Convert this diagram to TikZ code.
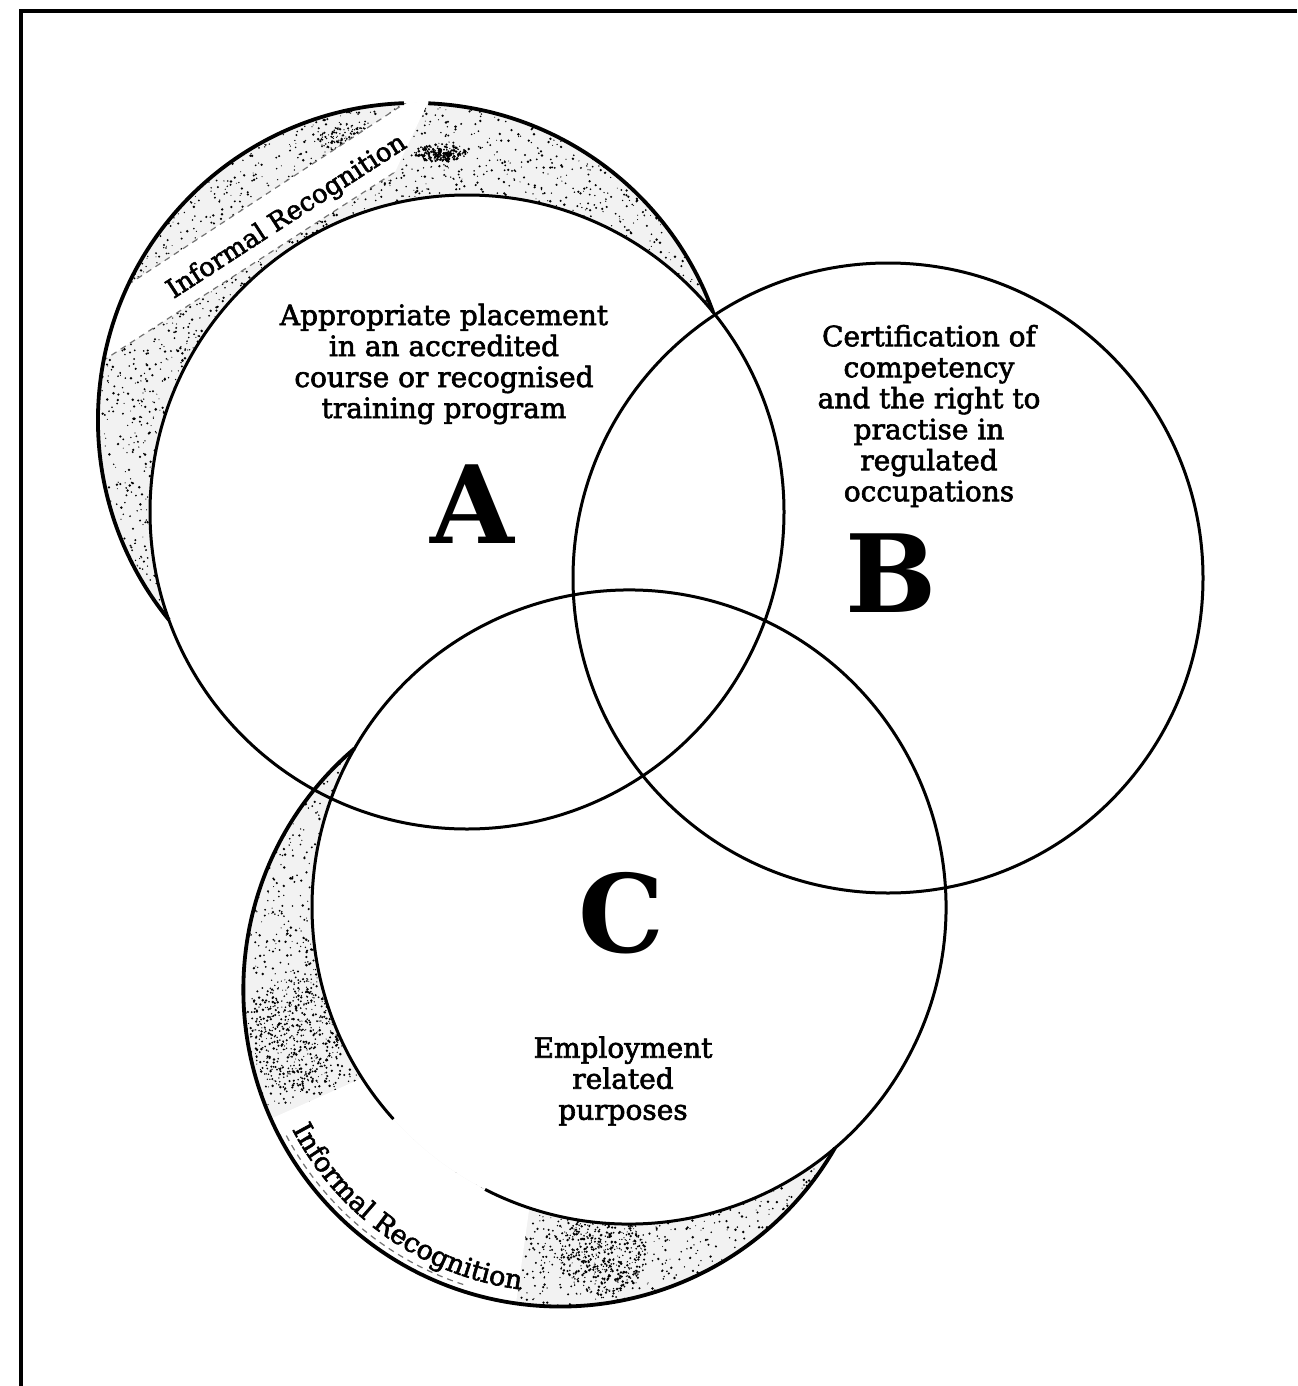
\documentclass[tikz,border=0pt]{standalone}
\usepackage{fontspec}
\setmainfont{DejaVu Serif}
\newfontfamily\medfont[FakeBold=2.2]{DejaVu Serif}
\usetikzlibrary{calc,decorations.text}
\begin{document}
\begin{tikzpicture}[x=0.5pt,y=0.5pt,
  ring/.style={line width=1.5pt},
  rim/.style={line width=1.9pt},
  lbl/.style={align=center, inner sep=0pt, font=\medfont\fontsize{14pt}{15.5pt}\selectfont},
  big/.style={inner sep=0pt, font=\fontsize{54pt}{60pt}\selectfont\bfseries},
  irec/.style={inner sep=0pt, font=\medfont\fontsize{13pt}{15pt}\selectfont},
  bandedge/.style={black!55, line width=0.6pt, dash pattern=on 3pt off 2.5pt},
  speck/.style={black}]
\useasboundingbox (0,0) rectangle (1297,-1386);
\fill[white] (0,0) rectangle (1297,-1386);

% centres (all circles have radius 317)
\coordinate (Acen) at (467,-512);
\coordinate (Bcen) at (888,-578);
\coordinate (Ccen) at (629,-907);
\coordinate (Ot) at (415,-420);   % upper "informal" circle
\coordinate (Ob) at (560,-990);   % lower "informal" circle
% crescent end points
\coordinate (TA1) at ($(Acen)+(199.9:317)$);
\coordinate (TA2) at ($(Acen)+(39.1:317)$);
\coordinate (BC1) at ($(Ccen)+(150:317)$);
\coordinate (BC2) at ($(Ccen)+(310.5:317)$);

\tikzset{
  toppath/.style={insert path={(TA1) arc[start angle=219.1, end angle=19.9, radius=317] -- (TA2) arc[start angle=39.1, end angle=199.9, radius=317] -- cycle}},
  botpath/.style={insert path={(BC1) arc[start angle=130.5, end angle=330, radius=317] -- (BC2) arc[start angle=310.5, end angle=150, radius=317] -- cycle}}
}

\pgfmathsetseed{4242}
% ---------- upper crescent ----------
\begin{scope}
  \clip[toppath];
  \fill[black!5] (0,0) rectangle (800,-700);
  \foreach \i in {1,...,2300}{
    \pgfmathsetmacro\ang{15+210*rnd}
    \pgfmathsetmacro\rr{205+115*rnd}
    \pgfmathsetmacro\sz{0.5+0.9*rnd}
    \fill[speck] (Ot) ++(\ang:\rr) circle[radius=\sz];
  }
  \foreach \i in {1,...,160}{
    \pgfmathsetmacro\ang{360*rnd}
    \pgfmathsetmacro\rr{sqrt(rnd)}
    \pgfmathsetmacro\sz{0.5+0.9*rnd}
    \fill[speck] (350,-140) ++({32*\rr*cos(\ang)},{16*\rr*sin(\ang)}) circle[radius=\sz];
  }
  \foreach \i in {1,...,180}{
    \pgfmathsetmacro\ang{360*rnd}
    \pgfmathsetmacro\rr{sqrt(rnd)}
    \pgfmathsetmacro\sz{0.6+1.0*rnd}
    \fill[speck] (440,-153) ++({26*\rr*cos(\ang)},{9*\rr*sin(\ang)}) circle[radius=\sz];
  }
  % white ribbon with the label
  \fill[white] (45,-339) -- (410,-100) -- (430,-98) -- (395,-172) -- (56,-391) -- cycle;
  \draw[bandedge] (45,-339) -- (410,-100);
  \draw[bandedge] (56,-391) -- (395,-172);
\end{scope}

% ---------- lower crescent ----------
\begin{scope}
  \clip[botpath];
  \fill[black!5] (200,-700) rectangle (900,-1350);
  \foreach \i in {1,...,2300}{
    \pgfmathsetmacro\ang{125+210*rnd}
    \pgfmathsetmacro\rr{200+120*rnd}
    \pgfmathsetmacro\sz{0.5+0.9*rnd}
    \fill[speck] (Ob) ++(\ang:\rr) circle[radius=\sz];
  }
  \fill[white] (Ob) -- ++(204:420) arc[start angle=204, end angle=262, radius=420] -- cycle;
  \foreach \i in {1,...,450}{
    \pgfmathsetmacro\ang{360*rnd}
    \pgfmathsetmacro\rr{sqrt(rnd)}
    \pgfmathsetmacro\sz{0.5+0.9*rnd}
    \fill[speck] (298,-1035) ++({48*\rr*cos(\ang)},{58*\rr*sin(\ang)}) circle[radius=\sz];
  }
  \foreach \i in {1,...,450}{
    \pgfmathsetmacro\ang{360*rnd}
    \pgfmathsetmacro\rr{sqrt(rnd)}
    \pgfmathsetmacro\sz{0.5+0.9*rnd}
    \fill[speck] (602,-1255) ++({45*\rr*cos(\ang)},{40*\rr*sin(\ang)}) circle[radius=\sz];
  }
  \draw[bandedge] (Ob) ++(208:310) arc[start angle=208, end angle=252, radius=310];
\end{scope}

% ---------- frame ----------
\draw[line width=2.3pt] (21,-1386) -- (21,-11) -- (1297,-11);

% ---------- circles ----------
\draw[ring] (Acen) circle[radius=317];
\draw[ring] (Bcen) circle[radius=315];
\draw[ring] (Ccen) ++(243:317) arc[start angle=243, end angle=582, radius=317];

% ---------- outer rims ----------
\draw[rim] (TA1) arc[start angle=219.1, end angle=92, radius=317];
\draw[rim] (Ot) ++(87.6:317) arc[start angle=87.6, end angle=19.9, radius=317];
\draw[rim] (BC1) arc[start angle=130.5, end angle=330, radius=317];

% ---------- texts ----------
\node[lbl] (tA) at (444,-364) {Appropriate placement\\in an accredited\\course or recognised\\training program};
\node[lbl] (tB) at (929,-416) {Certification of\\competency\\and the right to\\practise in\\regulated\\occupations};
\node[lbl] (tC) at (623,-1081) {Employment\\related\\purposes};
\node[big] (lA) at (472,-504) {A};
\node[big] (lB) at (891,-573) {B};
\node[big] (lC) at (621,-913) {C};
\node[irec, rotate=33] (irA) at (287,-217) {Informal Recognition};
\path[decorate, decoration={text along path, text align=center,
  text={|\medfont\fontsize{13.5pt}{15pt}\selectfont|Informal Recognition}}]
  (Ob) ++(197:302) arc[start angle=197, end angle=273, radius=302];
\end{tikzpicture}
\end{document}
